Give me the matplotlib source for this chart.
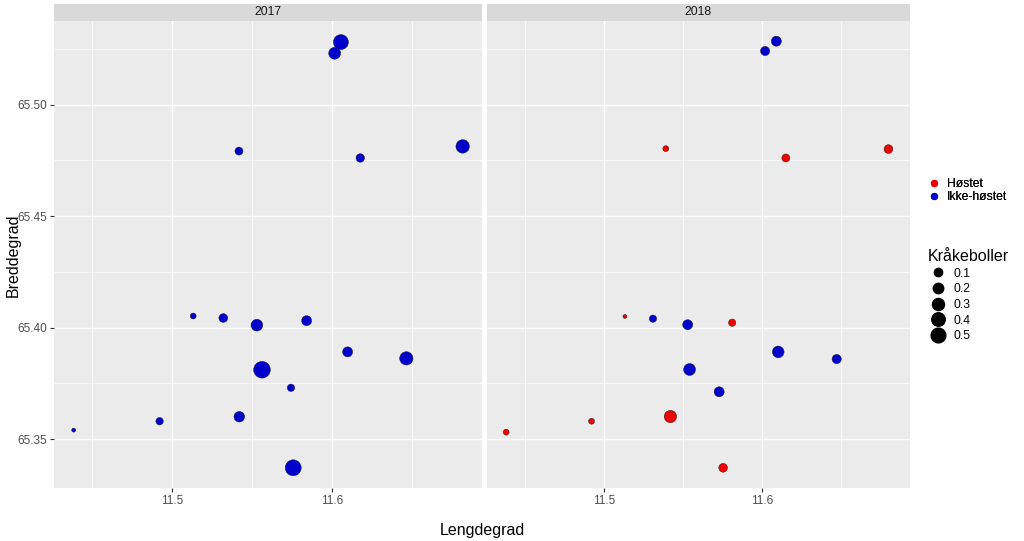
import matplotlib.pyplot as plt
from matplotlib.lines import Line2D
import numpy as np

plt.rcParams['font.family'] = ['Liberation Sans', 'DejaVu Sans']

# 2017 stations (all ikke-hostet)
lon_2017 = [11.6054, 11.6015, 11.5417, 11.6175, 11.6815, 11.5131, 11.5319, 11.5529, 11.5840,
            11.6096, 11.6463, 11.5561, 11.5742, 11.5419, 11.4921, 11.4384, 11.5756]
lat_2017 = [65.5281, 65.5231, 65.4792, 65.4761, 65.4813, 65.4052, 65.4043, 65.4011, 65.4031,
            65.3891, 65.3862, 65.3811, 65.3730, 65.3600, 65.3580, 65.3540, 65.3371]
kb_2017 = [0.53, 0.29, 0.09, 0.11, 0.40, 0.03, 0.12, 0.28, 0.18,
           0.18, 0.39, 0.69, 0.07, 0.21, 0.07, 0.003, 0.62]
status_2017 = ['Ikke-høstet'] * 17

# 2018 stations
lon_2018 = [11.6090, 11.6019, 11.5392, 11.6150, 11.6798, 11.5134, 11.5311, 11.5530, 11.5811,
            11.6102, 11.6471, 11.5542, 11.5729, 11.5421, 11.4923, 11.4384, 11.5754]
lat_2018 = [65.5285, 65.5241, 65.4803, 65.4761, 65.4801, 65.4050, 65.4040, 65.4013, 65.4022,
            65.3891, 65.3859, 65.3812, 65.3712, 65.3601, 65.3580, 65.3531, 65.3371]
kb_2018 = [0.18, 0.14, 0.03, 0.09, 0.12, 0.003, 0.066, 0.18, 0.066,
           0.275, 0.14, 0.29, 0.18, 0.32, 0.03, 0.03, 0.12]
status_2018 = ['Ikke-høstet', 'Ikke-høstet', 'Høstet', 'Høstet', 'Høstet', 'Høstet', 'Ikke-høstet',
               'Ikke-høstet', 'Høstet', 'Ikke-høstet', 'Ikke-høstet', 'Ikke-høstet', 'Ikke-høstet',
               'Høstet', 'Høstet', 'Høstet', 'Høstet']

groups = ['Høstet', 'Ikke-høstet']
colors = {'Høstet': '#EE0000', 'Ikke-høstet': '#0000CD'}
size_breaks = [0.1, 0.2, 0.3, 0.4, 0.5]


def diam(v):
    # diameter in points, area-like scale
    return (3.1 + 16.4 * np.sqrt(np.asarray(v))) * 0.72


W, H = 1024, 541
fig = plt.figure(figsize=(W / 100, H / 100), dpi=100)

bottom = 1 - 488.3 / H
height = 467.6 / H
panels = [(54 / W, 427.7 / W, '2017', lon_2017, lat_2017, kb_2017, status_2017),
          (486.7 / W, 423.3 / W, '2018', lon_2018, lat_2018, kb_2018, status_2018)]

for i, (left, width, year, lon, lat, kb, st) in enumerate(panels):
    ax = fig.add_axes([left, bottom, width, height])
    ax.set_facecolor('#EBEBEB')
    for s in ax.spines.values():
        s.set_visible(False)
    ax.set_xlim(11.4261, 11.6934)
    ax.set_ylim(65.3279, 65.5377)
    ax.set_xticks([11.5, 11.6])
    ax.set_xticklabels(['11.5', '11.6'])
    ax.set_xticks([11.45, 11.55, 11.65], minor=True)
    ax.set_yticks([65.35, 65.40, 65.45, 65.50])
    ax.set_yticks([65.375, 65.425, 65.475, 65.525], minor=True)
    ax.grid(which='major', color='white', linewidth=1.0)
    ax.grid(which='minor', color='white', linewidth=0.5)
    ax.set_axisbelow(True)
    ax.tick_params(which='major', length=3, color='#333333', labelsize=8.5,
                   labelcolor='#4D4D4D', width=0.8, pad=2)
    ax.tick_params(which='minor', length=0)
    if i == 0:
        ax.set_yticklabels(['65.35', '65.40', '65.45', '65.50'])
    else:
        ax.set_yticklabels([])
        ax.tick_params(axis='y', which='major', length=0)
    for g in groups:
        idx = [k for k in range(len(lon)) if st[k] == g]
        ax.scatter([lon[k] for k in idx], [lat[k] for k in idx],
                   s=diam([kb[k] for k in idx]) ** 2, color=colors[g],
                   edgecolor='#1a1a1a', linewidth=0.3, zorder=3)
    strip = fig.add_axes([left, 1 - 20.7 / H, width, 16.7 / H])
    strip.set_facecolor('#D9D9D9')
    strip.set_xticks([])
    strip.set_yticks([])
    for s in strip.spines.values():
        s.set_visible(False)
    strip.text(0.5, 0.5, year, ha='center', va='center', fontsize=8.7, color='#1A1A1A',
               transform=strip.transAxes)

fig.text(482 / W, 1 - 530 / H, 'Lengdegrad', ha='center', va='center', fontsize=11.5)
fig.text(13 / W, 1 - 255 / H, 'Breddegrad', ha='center', va='center', fontsize=11.5, rotation=90)

col_handles = [Line2D([], [], marker='o', linestyle='', markersize=4.2, markerfacecolor=colors[g],
                      markeredgecolor=colors[g]) for g in groups]
leg1 = fig.legend(col_handles, groups, loc='upper left', bbox_to_anchor=(922 / W, 1 - 172 / H),
                  frameon=False, fontsize=8.7, handlelength=1.0, handletextpad=0.6,
                  labelspacing=0.08, borderpad=0)
fig.add_artist(leg1)

size_handles = [Line2D([], [], marker='o', linestyle='', markersize=diam(v), color='black')
                for v in size_breaks]
fig.legend(size_handles, ['%.1f' % v for v in size_breaks], loc='upper left',
           bbox_to_anchor=(922 / W, 1 - 243 / H), frameon=False, fontsize=8.7,
           title='Kråkeboller', title_fontsize=11.5, handlelength=1.6, handletextpad=0.5,
           labelspacing=0.3, borderpad=0, alignment='left')

fig.savefig('out.png', dpi=100)
